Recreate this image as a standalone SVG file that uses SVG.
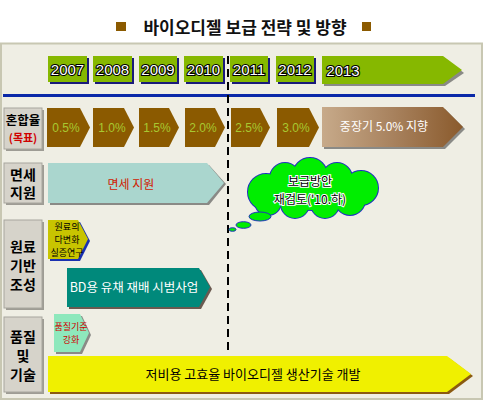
<svg xmlns="http://www.w3.org/2000/svg" width="483" height="400" viewBox="0 0 483 400">
<style>
text{font-family:"Noto Sans CJK KR","Liberation Sans",sans-serif;}
.yr{font-family:"Liberation Sans","Noto Sans CJK KR",sans-serif;font-size:15px;fill:#fff;stroke:#000;stroke-width:2.2px;paint-order:stroke;text-anchor:middle;}
.pct{font-family:"Liberation Sans",sans-serif;font-size:12px;fill:#A8C830;text-anchor:middle;}
.lbl{font-size:14px;fill:#000;text-anchor:middle;font-weight:bold;}
.lblbox{fill:#D6D3CA;stroke:#A8A69E;stroke-width:1;}
.c{text-anchor:middle;}
</style>
<defs>
<linearGradient id="gBrown" x1="0" y1="0" x2="1" y2="0">
<stop offset="0" stop-color="#C7AA8A"/>
<stop offset="0.5" stop-color="#A8825E"/>
<stop offset="1" stop-color="#8A5A2C"/>
</linearGradient>
</defs>
<rect x="0" y="0" width="483" height="400" fill="#fff"/>
<g id="title">
<rect x="116" y="22" width="10" height="9" fill="#8B5A00"/>
<rect x="362" y="22" width="9" height="9" fill="#8B5A00"/>
<text x="245" y="34" class="c" font-size="17" font-weight="bold" fill="#111">바이오디젤 보급 전략 및 방향</text>
</g>
<rect x="1" y="43.5" width="481" height="355.5" fill="#EFEEE4" stroke="#C8C7B2" stroke-width="2"/>

<g id="years">
<g id="y2007"><rect x="50" y="58" width="39" height="26" fill="#1A1A7A"/><rect x="48" y="56" width="39" height="26" fill="#86B800"/><text x="67.5" y="75" class="yr">2007</text></g>
<g id="y2008"><rect x="95" y="58" width="39" height="26" fill="#1A1A7A"/><rect x="93" y="56" width="39" height="26" fill="#86B800"/><text x="112.5" y="75" class="yr">2008</text></g>
<g id="y2009"><rect x="141" y="58" width="38" height="26" fill="#1A1A7A"/><rect x="139" y="56" width="38" height="26" fill="#86B800"/><text x="158" y="75" class="yr">2009</text></g>
<g id="y2010"><rect x="186" y="58" width="39" height="26" fill="#1A1A7A"/><rect x="184" y="56" width="39" height="26" fill="#86B800"/><text x="203.5" y="75" class="yr">2010</text></g>
<g id="y2011"><rect x="232" y="58" width="38" height="26" fill="#1A1A7A"/><rect x="230" y="56" width="38" height="26" fill="#86B800"/><text x="249" y="75" class="yr">2011</text></g>
<g id="y2012"><rect x="278" y="58" width="38" height="26" fill="#1A1A7A"/><rect x="276" y="56" width="38" height="26" fill="#86B800"/><text x="295" y="75" class="yr">2012</text></g>
<g id="y2013"><path d="M324,58 H445 L464,73 L445,86 H324 Z" fill="#8A8A86"/><path d="M322,56 H443 L462,70 L443,84 H322 Z" fill="#86B800"/><text x="343" y="76" class="yr">2013</text></g>
</g>

<line x1="3" y1="95.5" x2="475" y2="95.5" stroke="#0A28A8" stroke-width="3"/>

<g id="labels">
<g id="l1"><rect x="6" y="110" width="38" height="41" fill="#9E9C94"/><rect x="4" y="108" width="38" height="41" class="lblbox"/><text x="23" y="125" class="c" font-size="12.5" font-weight="bold">혼합율</text><text x="23" y="142" class="c" font-size="11" font-weight="bold" fill="#D00000">(목표)</text></g>
<g id="l2"><rect x="6" y="165" width="38" height="40" fill="#9E9C94"/><rect x="4" y="163" width="38" height="40" class="lblbox"/><text x="23" y="180" class="lbl">면세</text><text x="23" y="198" class="lbl">지원</text></g>
<g id="l3"><rect x="6" y="222" width="38" height="88" fill="#9E9C94"/><rect x="4" y="220" width="38" height="88" class="lblbox"/><text x="23" y="252" class="lbl">원료</text><text x="23" y="271" class="lbl">기반</text><text x="23" y="290" class="lbl">조성</text></g>
<g id="l4"><rect x="6" y="319" width="38" height="75" fill="#9E9C94"/><rect x="4" y="317" width="38" height="75" class="lblbox"/><text x="23" y="342" class="lbl">품질</text><text x="23" y="361" class="lbl">및</text><text x="23" y="380" class="lbl">기술</text></g>
</g>

<g id="mix">
<g id="m1"><path d="M47,108 H80 L90,127.5 L80,147 H47 Z" fill="#8B5A00"/><text x="66" y="132" class="pct">0.5%</text></g>
<g id="m2"><path d="M93,108 H124 L134,127.5 L124,147 H93 Z" fill="#8B5A00"/><text x="112" y="132" class="pct">1.0%</text></g>
<g id="m3"><path d="M139,108 H169 L179,127.5 L169,147 H139 Z" fill="#8B5A00"/><text x="157" y="132" class="pct">1.5%</text></g>
<g id="m4"><path d="M185,108 H215 L225,127.5 L215,147 H185 Z" fill="#8B5A00"/><text x="203" y="132" class="pct">2.0%</text></g>
<g id="m5"><path d="M231,108 H260 L270,127.5 L260,147 H231 Z" fill="#8B5A00"/><text x="249" y="132" class="pct">2.5%</text></g>
<g id="m6"><path d="M277,108 H309 L319,127.5 L309,147 H277 Z" fill="#8B5A00"/><text x="296" y="132" class="pct">3.0%</text></g>
<g id="m7"><path d="M324,109 H445 L465,129 L445,149 H324 Z" fill="#8A8A86"/><path d="M322,107 H443 L463,127 L443,147 H322 Z" fill="url(#gBrown)"/><text x="384" y="131" class="c" font-size="12" fill="#fff">중장기 5.0% 지향</text></g>
</g>

<g id="tax">
<path d="M50,165 H209 L226,184 L209,205 H50 Z" fill="#8A8A86"/>
<path d="M48,163 H207 L224,183 L207,203 H48 Z" fill="#AAD6CE"/>
<text x="131" y="189" class="c" font-size="12" fill="#D02000">면세 지원</text>
</g>

<g id="feed">
<path d="M50,222 H80 L90,241 L80,261 H50 Z" fill="#1A30B0"/>
<path d="M48,220 H78 L88,239 L78,259 H48 Z" fill="#C8C400"/>
<text x="67" y="230" class="c" font-size="9" fill="#000">원료의</text>
<text x="67" y="243" class="c" font-size="9" fill="#000">다변화</text>
<text x="67" y="256" class="c" font-size="9" fill="#000">실증연구</text>
</g>

<g id="bd">
<path d="M69,270 H201 L212,289 L201,309 H69 Z" fill="#6A5A50"/>
<path d="M67,268 H199 L210,287 L199,307 H67 Z" fill="#00897B"/>
<text x="134" y="292" class="c" font-size="12.5" fill="#fff">BD용 유채 재배 시범사업</text>
</g>

<g id="quality">
<path d="M56,316 H82 L91,335 L82,354 H56 Z" fill="#8A8A86"/>
<path d="M54,314 H80 L89,333 L80,352 H54 Z" fill="#8EE8BC"/>
<text x="71" y="330" class="c" font-size="9" fill="#D00000">품질기준</text>
<text x="71" y="343" class="c" font-size="9" fill="#D00000">강화</text>
</g>

<g id="tech">
<path d="M50,358 H449 L473,376 L449,394 H50 Z" fill="#8B5A10"/>
<path d="M48,356 H447 L471,374 L447,392 H48 Z" fill="#F0F000"/>
<text x="253" y="379" class="c" font-size="13" fill="#000">저비용 고효율 바이오디젤 생산기술 개발</text>
</g>

<g id="connectors">
<line x1="228" y1="56" x2="228" y2="354" stroke="#000" stroke-width="2" stroke-dasharray="8,5"/>
</g>

<g id="cloud">
<g fill="none" stroke="#2030C0" stroke-width="2">
<circle cx="266" cy="192" r="18"/><circle cx="285" cy="178" r="15"/><circle cx="310" cy="175" r="17"/><circle cx="337" cy="178" r="15"/><circle cx="361" cy="188" r="17"/><circle cx="350" cy="200" r="15"/><circle cx="325" cy="204" r="14"/><circle cx="295" cy="204" r="14"/><circle cx="268" cy="202" r="13"/><ellipse cx="312" cy="190" rx="45" ry="20"/>
</g>
<g fill="#00EE00">
<circle cx="266" cy="192" r="18"/><circle cx="285" cy="178" r="15"/><circle cx="310" cy="175" r="17"/><circle cx="337" cy="178" r="15"/><circle cx="361" cy="188" r="17"/><circle cx="350" cy="200" r="15"/><circle cx="325" cy="204" r="14"/><circle cx="295" cy="204" r="14"/><circle cx="268" cy="202" r="13"/><ellipse cx="312" cy="190" rx="45" ry="20"/>
</g>
<ellipse cx="260" cy="216.5" rx="11" ry="4.5" fill="#00EE00" stroke="#2030C0" stroke-width="1"/>
<ellipse cx="243.5" cy="225" rx="7.5" ry="3.3" fill="#00EE00" stroke="#2030C0" stroke-width="1"/>
<ellipse cx="232.5" cy="229.5" rx="3.5" ry="1.8" fill="#00EE00" stroke="#2030C0" stroke-width="1"/>
<text x="310" y="186" class="c" font-size="12" fill="#000" stroke="#fff" stroke-width="2" paint-order="stroke">보급방안</text>
<text x="310" y="204" class="c" font-size="12" fill="#000" stroke="#fff" stroke-width="2" paint-order="stroke">재검토('10.하)</text>
</g>
</svg>
